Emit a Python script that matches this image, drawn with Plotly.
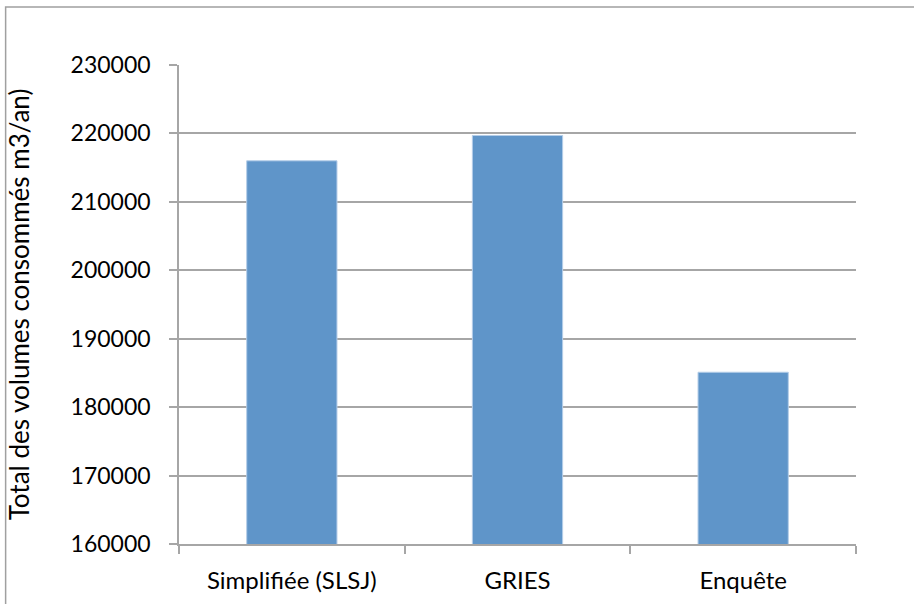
import plotly.graph_objects as go

categories = ["Simplifiée (SLSJ)", "GRIES", "Enquête"]
values = [216000, 219700, 185100]
y_ticks = [160000, 170000, 180000, 190000, 200000, 210000, 220000, 230000]
y_title = "Total des volumes consommés m3/an)"

W, H = 914, 604
L, R, T, B = 178.5, 58, 65, 60
pw, ph = W - L - R, H - T - B

FONT = "Lato"
GRID = "#a6a6a6"

fig = go.Figure(go.Bar(
    x=categories, y=values,
    marker=dict(color="#5f95c9", line=dict(color="#b4cde8", width=1)),
))

fig.update_layout(
    width=W, height=H,
    margin=dict(l=L, r=R, t=T, b=B, autoexpand=False),
    paper_bgcolor="white", plot_bgcolor="white",
    bargap=0.6, showlegend=False,
    font=dict(family=FONT, size=23, color="black"),
    xaxis=dict(
        type="category", showgrid=False, showline=True, linecolor=GRID, linewidth=1.5,
        ticks="outside", ticklen=8, tickcolor=GRID, tickwidth=1.5,
        tickson="boundaries", tickfont=dict(size=24), ticklabelstandoff=14,
    ),
    yaxis=dict(
        range=[160000, 230000], tickvals=y_ticks, ticktext=[str(v) for v in y_ticks],
        showgrid=True, gridcolor=GRID, gridwidth=1.5,
        showline=True, linecolor=GRID, linewidth=1.5,
        ticks="outside", ticklen=8, tickcolor=GRID, tickwidth=1.5,
        tickfont=dict(size=23), ticklabelstandoff=14, zeroline=False,
        title=dict(text=y_title, font=dict(size=26), standoff=34),
    ),
    shapes=[dict(
        type="rect", xref="paper", yref="paper",
        x0=(5 - L) / pw, x1=1 + (R + 20) / pw,
        y0=-(B + 20) / ph, y1=1 + (T - 7) / ph,
        line=dict(color="#a0a0a0", width=1.5), fillcolor="rgba(0,0,0,0)", layer="below",
    )],
)

fig.write_html(
    "out.html",
    config={"displayModeBar": False},
    post_script="document.body.style.margin='0';document.body.style.overflow='hidden';",
)
